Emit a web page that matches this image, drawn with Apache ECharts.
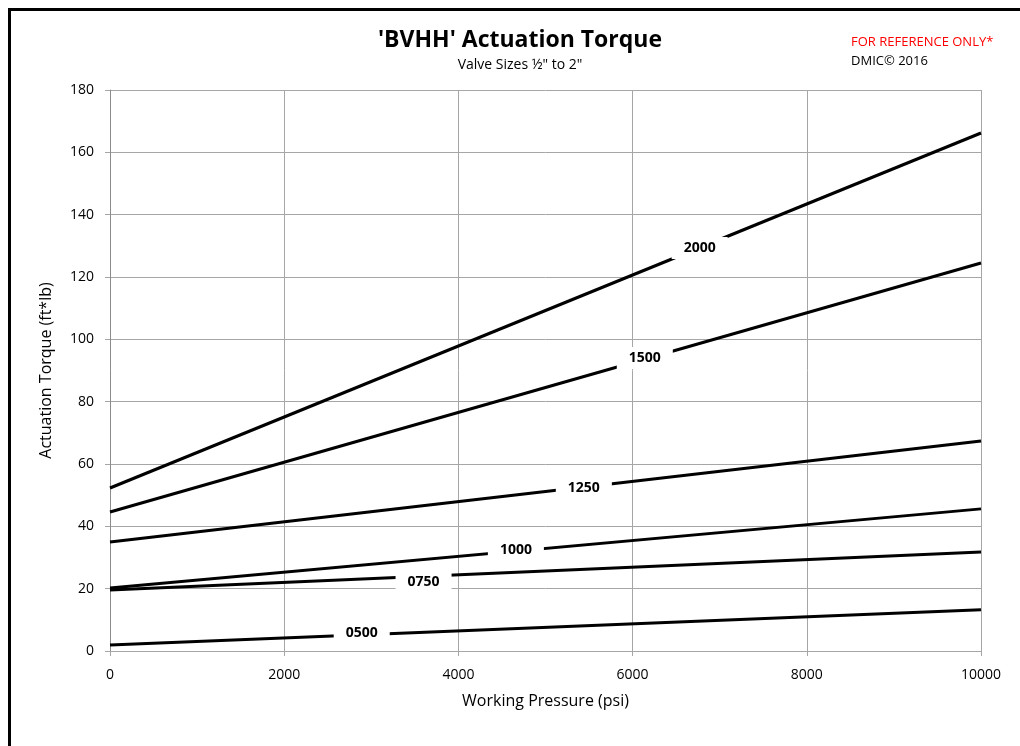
<!DOCTYPE html>
<html><head><meta charset="utf-8">
<script src="https://cdn.jsdelivr.net/npm/echarts@6/dist/echarts.min.js"></script>
<style>html,body{margin:0;padding:0;background:#fff}#c{width:1020px;height:746px}</style>
</head><body><div id="c"></div>
<script>
const pressure = [0, 10000];
const seriesNames = ['2000', '1500', '1250', '1000', '0750', '0500'];
const torque2000 = [52.3, 166.2];
const torque1500 = [44.6, 124.5];
const torque1250 = [35.0, 67.4];
const torque1000 = [20.2, 45.6];
const torque0750 = [19.6, 31.8];
const torque0500 = [1.9, 13.2];
const labelPos = [[6770, 129.3], [6140, 94.0], [5440, 52.3], [4660, 32.4], [3600, 22.1], [2890, 5.8]];
const xTicks = [0, 2000, 4000, 6000, 8000, 10000];
const yTicks = [0, 20, 40, 60, 80, 100, 120, 140, 160, 180];

const FONT = 'Open Sans';
const all = [torque2000, torque1500, torque1250, torque1000, torque0750, torque0500];
const series = all.map((vals, i) => ({
  name: seriesNames[i], type: 'line', symbol: 'none', silent: true,
  data: vals.map((v, j) => [pressure[j], v]),
  lineStyle: { color: '#000', width: 3 },
  z: 3,
  markPoint: {
    symbol: 'rect', symbolSize: 0, silent: true,
    data: [{ coord: labelPos[i], value: seriesNames[i] }],
    label: {
      show: true, position: 'inside', formatter: seriesNames[i],
      color: '#000', fontFamily: FONT, fontWeight: 'bold', fontSize: 14,
      backgroundColor: '#fff', padding: [4, 12, 4, 12]
    }
  }
}));

const chart = echarts.init(document.getElementById('c'), null, { renderer: 'canvas' });
chart.setOption({
  animation: false,
  backgroundColor: '#fff',
  grid: { left: 110, right: 39, top: 90, bottom: 95, containLabel: false },
  title: [
    { text: "'BVHH' Actuation Torque", left: 515, top: 24, textAlign: 'center',
      textStyle: { fontFamily: FONT, fontWeight: 'bold', fontSize: 23, color: '#000' } },
    { text: 'Valve Sizes ½" to 2"', left: 515, top: 53, textAlign: 'center',
      textStyle: { fontFamily: FONT, fontWeight: 'normal', fontSize: 14, color: '#000' } },
    { text: 'FOR REFERENCE ONLY*', left: 846, top: 31,
      textStyle: { fontFamily: FONT, fontWeight: 'normal', fontSize: 13, color: '#ff0000' } },
    { text: 'DMIC© 2016', left: 846, top: 50,
      textStyle: { fontFamily: FONT, fontWeight: 'normal', fontSize: 13, color: '#000' } }
  ],
  xAxis: {
    type: 'value', min: 0, max: 10000, interval: 2000,
    name: 'Working Pressure (psi)', nameLocation: 'middle', nameGap: 42,
    nameTextStyle: { fontFamily: FONT, fontSize: 16, color: '#000' },
    axisLine: { show: true, lineStyle: { color: '#a6a6a6', width: 1 } },
    axisTick: { show: true, length: 5, lineStyle: { color: '#a6a6a6' } },
    axisLabel: { fontFamily: FONT, fontSize: 14, color: '#000', margin: 17,
      formatter: v => xTicks.includes(v) ? String(v) : '' },
    splitLine: { show: true, lineStyle: { color: '#a6a6a6', width: 1 } }
  },
  yAxis: {
    type: 'value', min: 0, max: 180, interval: 20,
    name: 'Actuation Torque (ft*lb)', nameLocation: 'middle', nameGap: 56,
    nameTextStyle: { fontFamily: FONT, fontSize: 16, color: '#000' },
    axisLine: { show: true, lineStyle: { color: '#8c8c8c', width: 1 } },
    axisTick: { show: true, length: 5, lineStyle: { color: '#a6a6a6' } },
    axisLabel: { fontFamily: FONT, fontSize: 14, color: '#000', margin: 16,
      formatter: v => yTicks.includes(v) ? String(v) : '' },
    splitLine: { show: true, lineStyle: { color: '#a6a6a6', width: 1 } }
  },
  graphic: [
    { type: 'rect', left: 7, top: 7, silent: true, z: 100,
      shape: { x: 0, y: 0, width: 1040, height: 780 },
      style: { fill: 'none', stroke: '#000', lineWidth: 3 } },
    { type: 'line', silent: true, z: 1,
      shape: { x1: 981.5, y1: 90, x2: 981.5, y2: 651 },
      style: { stroke: '#a6a6a6', lineWidth: 1 } }
  ],
  series: series
});
</script></body></html>
